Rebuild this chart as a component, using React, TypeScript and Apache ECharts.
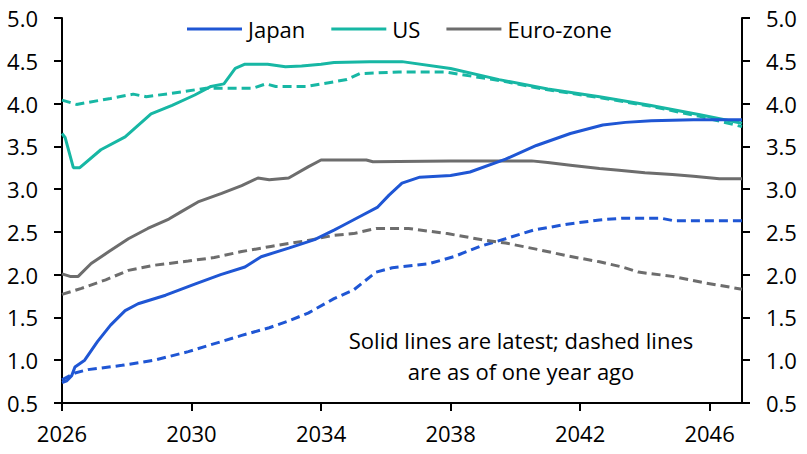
import React, { useEffect, useRef } from "react";
import * as echarts from "echarts";

const legendNames = ["Japan", "US", "Euro-zone"];
const annotationLines = ["Solid lines are latest; dashed lines", "are as of one year ago"];

const japanLatest: [number, number][] = [
  [2026.0, 0.74], [2026.15, 0.76], [2026.3, 0.82], [2026.4, 0.92], [2026.7, 1.0],
  [2027.1, 1.22], [2027.5, 1.41], [2027.95, 1.58], [2028.35, 1.66], [2029.2, 1.76],
  [2030.1, 1.89], [2030.9, 2.0], [2031.65, 2.09], [2032.15, 2.21], [2033.0, 2.31],
  [2033.8, 2.41], [2034.4, 2.52], [2034.6, 2.56], [2035.2, 2.68], [2035.75, 2.79],
  [2036.1, 2.93], [2036.5, 3.07], [2037.05, 3.14], [2038.0, 3.16], [2038.6, 3.2],
  [2039.7, 3.35], [2040.65, 3.51], [2041.7, 3.65], [2042.7, 3.75], [2043.4, 3.78],
  [2044.2, 3.8], [2045.5, 3.81], [2047.0, 3.81],
];

const japanYearAgo: [number, number][] = [
  [2026.0, 0.77], [2026.4, 0.85], [2026.8, 0.89], [2027.85, 0.94], [2028.85, 1.0],
  [2029.9, 1.1], [2030.5, 1.17], [2031.55, 1.29], [2032.4, 1.38], [2033.0, 1.46],
  [2033.6, 1.55], [2034.4, 1.72], [2035.0, 1.82], [2035.7, 2.03], [2036.2, 2.08],
  [2037.35, 2.13], [2038.1, 2.21], [2038.9, 2.33], [2039.7, 2.42], [2040.55, 2.52],
  [2041.6, 2.59], [2042.6, 2.64], [2043.3, 2.66], [2044.5, 2.66], [2044.9, 2.63],
  [2047.0, 2.63],
];

const usLatest: [number, number][] = [
  [2026.0, 3.65], [2026.1, 3.6], [2026.35, 3.25], [2026.55, 3.25], [2027.2, 3.46],
  [2027.95, 3.61], [2028.75, 3.88], [2029.4, 3.98], [2030.1, 4.1], [2030.6, 4.2],
  [2031.0, 4.23], [2031.35, 4.41], [2031.65, 4.46], [2032.35, 4.46], [2032.9, 4.43],
  [2033.4, 4.44], [2034.0, 4.46], [2034.4, 4.48], [2035.5, 4.49], [2036.5, 4.49],
  [2038.0, 4.41], [2039.5, 4.28], [2041.0, 4.17], [2042.6, 4.08], [2044.15, 3.98],
  [2045.7, 3.87], [2047.0, 3.77],
];

const usYearAgo: [number, number][] = [
  [2026.0, 4.04], [2026.45, 3.99], [2027.5, 4.06], [2028.2, 4.11], [2028.6, 4.08],
  [2029.4, 4.12], [2030.45, 4.18], [2031.9, 4.18], [2032.3, 4.23], [2032.6, 4.2],
  [2033.55, 4.2], [2034.8, 4.28], [2035.2, 4.35], [2036.4, 4.37], [2037.8, 4.37],
  [2039.5, 4.27], [2041.0, 4.16], [2042.6, 4.07], [2044.15, 3.97], [2045.7, 3.85],
  [2047.0, 3.73],
];

const euroLatest: [number, number][] = [
  [2026.0, 2.01], [2026.25, 1.98], [2026.5, 1.98], [2026.9, 2.13], [2027.45, 2.27],
  [2028.05, 2.42], [2028.65, 2.54], [2029.3, 2.65], [2029.7, 2.74], [2030.2, 2.85],
  [2030.93, 2.95], [2031.55, 3.04], [2032.05, 3.13], [2032.4, 3.11], [2033.0, 3.13],
  [2033.6, 3.26], [2034.0, 3.34], [2035.4, 3.34], [2035.6, 3.32], [2038.0, 3.33],
  [2040.5, 3.33], [2041.0, 3.31], [2041.7, 3.28], [2042.6, 3.24], [2043.2, 3.22],
  [2044.0, 3.19], [2044.85, 3.17], [2045.5, 3.15], [2046.3, 3.12], [2047.0, 3.12],
];

const euroYearAgo: [number, number][] = [
  [2026.0, 1.77], [2026.6, 1.84], [2027.35, 1.94], [2028.05, 2.05], [2028.85, 2.11],
  [2029.9, 2.16], [2030.7, 2.2], [2031.55, 2.27], [2032.45, 2.33], [2033.6, 2.4],
  [2034.4, 2.46], [2035.0, 2.48], [2035.7, 2.54], [2036.7, 2.54], [2037.9, 2.48],
  [2039.1, 2.4], [2039.7, 2.37], [2040.75, 2.29], [2041.6, 2.22], [2042.6, 2.15],
  [2043.3, 2.09], [2043.8, 2.03], [2044.85, 1.98], [2045.9, 1.9], [2047.0, 1.83],
];

const COLORS = { japan: "#1f56d4", us: "#17b7a4", euro: "#6d6d6d" };
const FONT = "'Open Sans', sans-serif";

export default function App() {
  const ref = useRef<HTMLDivElement>(null);
  useEffect(() => {
    document.body.style.margin = "0";
    if (!ref.current) return;
    const chart = echarts.init(ref.current, null, { renderer: "svg" });
    const lineSeries = (name: string, data: [number, number][], color: string, dashed: boolean, width: number) => ({
      name,
      type: "line",
      data,
      showSymbol: false,
      symbol: "none",
      itemStyle: { color },
      lineStyle: { color, width, type: dashed ? [9, 5] : "solid" },
      z: dashed ? 2 : 3,
    });
    const yAxisBase = {
      type: "value",
      min: 0.5,
      max: 5,
      interval: 0.5,
      splitLine: { show: false },
      axisLine: { show: true, lineStyle: { color: "#000", width: 2 } },
      axisTick: { show: true, length: 8, lineStyle: { color: "#000", width: 2 } },
      axisLabel: {
        color: "#000",
        fontFamily: FONT,
        fontSize: 22,
        margin: 24,
        formatter: (v: number) => v.toFixed(1),
      },
    };
    chart.setOption({
      animation: false,
      grid: { left: 62, right: 65, top: 18, bottom: 51, containLabel: false },
      legend: {
        data: legendNames,
        left: 182,
        top: 13,
        icon: "rect",
        itemWidth: 55,
        itemHeight: 3,
        itemGap: 26,
        textStyle: { fontFamily: FONT, fontSize: 22, color: "#000", padding: [0, 0, 0, 1] },
      },
      xAxis: {
        type: "value",
        min: 2026,
        max: 2047,
        interval: 4,
        splitLine: { show: false },
        axisLine: { show: true, lineStyle: { color: "#000", width: 2 } },
        axisTick: { show: true, length: 8, lineStyle: { color: "#000", width: 2 } },
        axisLabel: {
          color: "#000",
          fontFamily: FONT,
          fontSize: 22,
          margin: 19,
          showMaxLabel: false,
          formatter: (v: number) => (v === 2047 ? "" : String(v)),
        },
      },
      yAxis: [
        { ...yAxisBase, position: "left" },
        { ...yAxisBase, position: "right" },
      ],
      series: [
        lineSeries("Japan (year ago)", japanYearAgo, COLORS.japan, true, 3),
        lineSeries("US (year ago)", usYearAgo, COLORS.us, true, 3),
        lineSeries("Euro-zone (year ago)", euroYearAgo, COLORS.euro, true, 3),
        lineSeries("Euro-zone", euroLatest, COLORS.euro, false, 3),
        lineSeries("US", usLatest, COLORS.us, false, 3),
        lineSeries("Japan", japanLatest, COLORS.japan, false, 3),
      ],
      graphic: annotationLines.map((t, i) => ({
        type: "text",
        x: 521,
        y: 340 + i * 31,
        style: {
          text: t,
          fontFamily: FONT,
          fontSize: 22,
          fill: "#000",
          textAlign: "center",
          textVerticalAlign: "middle",
        },
      })),
    });
    return () => chart.dispose();
  }, []);
  return <div ref={ref} style={{ width: 807, height: 454 }} />;
}
